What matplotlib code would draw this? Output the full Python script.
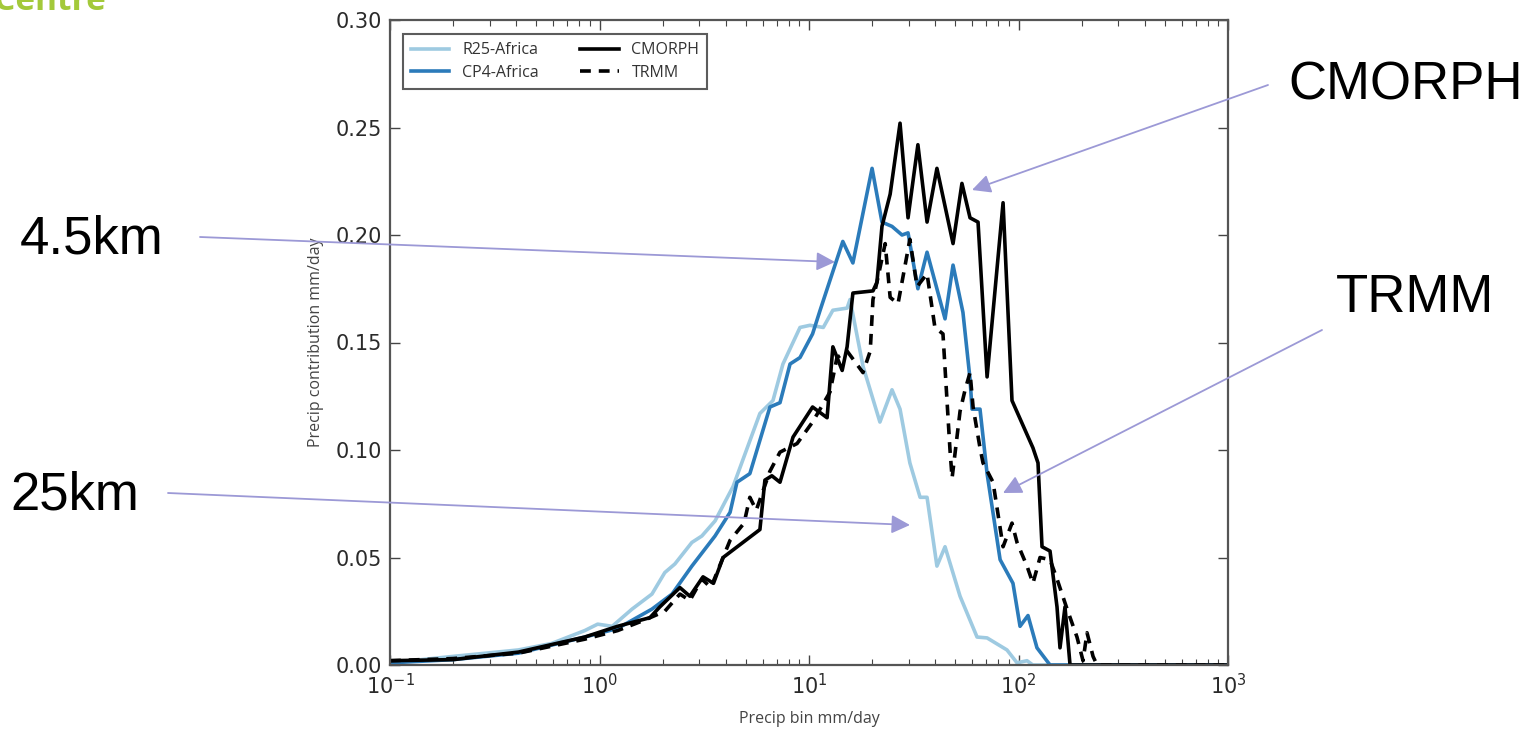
import matplotlib
matplotlib.use("Agg")
import matplotlib.pyplot as plt
from matplotlib.ticker import LogLocator, FixedLocator

# ---------------- data ----------------
r25_x = [0.1, 0.2, 0.41, 0.59, 0.85, 0.98, 1.15, 1.43, 1.78, 2.05, 2.29, 2.76, 3.08, 3.56,
         4.34, 5.83, 6.73, 7.51, 9.06, 10.1, 11.7, 13.0, 15.2, 15.7, 18.1, 21.8, 24.9, 27.2,
         30.3, 33.9, 36.6, 40.8, 44.6, 52.6, 63.4, 70.8, 88.1, 98.4, 109.8, 117.0, 300.0, 1000.0]
r25_y = [0.001, 0.004, 0.007, 0.010, 0.016, 0.019, 0.018, 0.026, 0.033, 0.043, 0.047, 0.057, 0.060, 0.067,
         0.083, 0.117, 0.123, 0.140, 0.157, 0.158, 0.157, 0.165, 0.166, 0.170, 0.139, 0.113, 0.128, 0.119,
         0.094, 0.078, 0.078, 0.046, 0.055, 0.032, 0.013, 0.0126, 0.007, 0.001, 0.002, 0.0, 0.0, 0.0]

cp4_x = [0.1, 0.2, 0.41, 0.85, 1.22, 1.78, 2.22, 2.76, 3.56, 4.20, 4.53, 5.22, 6.51, 7.27, 8.12,
         9.06, 10.4, 11.3, 12.6, 14.5, 16.2, 20.0, 22.3, 24.9, 27.8, 29.7, 33.1, 36.6, 44.6, 48.7,
         54.3, 58.7, 60.0, 65.5, 70.8, 81.7, 94.1, 101.7, 111.0, 122.5, 141.4, 300.0, 1000.0]
cp4_y = [0.001, 0.0025, 0.0055, 0.013, 0.017, 0.026, 0.033, 0.046, 0.060, 0.071, 0.085, 0.089, 0.120, 0.122, 0.140,
         0.143, 0.154, 0.165, 0.179, 0.197, 0.187, 0.231, 0.206, 0.204, 0.200, 0.201, 0.175, 0.192, 0.161, 0.186,
         0.164, 0.133, 0.119, 0.119, 0.089, 0.049, 0.038, 0.018, 0.023, 0.008, 0.0, 0.0, 0.0]

cmorph_x = [0.1, 0.2, 0.41, 0.85, 1.22, 1.74, 1.94, 2.42, 2.70, 3.12, 3.50, 3.89, 5.83, 6.16, 6.65,
            7.27, 8.39, 10.4, 12.2, 13.0, 14.4, 15.2, 16.2, 20.2, 21.1, 22.3, 24.4, 27.2, 29.7, 33.1,
            36.6, 40.8, 48.7, 53.7, 58.7, 64.1, 70.8, 84.4, 93.1, 117.2, 123.9, 129.5, 141.4, 152.7,
            157.8, 166.7, 176.2, 300.0, 1000.0]
cmorph_y = [0.002, 0.0025, 0.006, 0.013, 0.018, 0.022, 0.027, 0.036, 0.032, 0.041, 0.038, 0.050, 0.063, 0.086, 0.088,
            0.085, 0.106, 0.120, 0.115, 0.148, 0.137, 0.148, 0.173, 0.174, 0.178, 0.204, 0.219, 0.252, 0.208, 0.242,
            0.206, 0.231, 0.196, 0.224, 0.208, 0.206, 0.134, 0.215, 0.123, 0.101, 0.094, 0.055, 0.053, 0.027,
            0.008, 0.027, 0.0, 0.0, 0.0]

trmm_x = [0.1, 0.2, 0.41, 0.85, 1.22, 1.65, 2.05, 2.42, 2.70, 3.08, 3.40, 4.20, 4.90, 5.22, 5.60,
          6.50, 7.27, 8.77, 10.4, 12.6, 13.6, 15.2, 18.1, 19.6, 20.2, 21.1, 23.1, 24.4, 26.6, 29.4,
          30.3, 32.8, 36.6, 39.9, 43.6, 47.1, 48.2, 52.6, 55.6, 58.7, 60.7, 65.5, 67.7, 75.6, 84.4,
          93.1, 98.4, 109.8, 117.2, 126.7, 141.4, 152.7, 170.6, 190.2, 203.2, 212.4, 226.9, 237.1,
          400.0, 1000.0]
trmm_y = [0.002, 0.003, 0.0055, 0.012, 0.016, 0.021, 0.025, 0.033, 0.030, 0.040, 0.036, 0.058, 0.066, 0.078, 0.072,
          0.090, 0.099, 0.103, 0.113, 0.127, 0.143, 0.146, 0.136, 0.146, 0.170, 0.178, 0.196, 0.171, 0.168, 0.191,
          0.198, 0.176, 0.182, 0.157, 0.154, 0.100, 0.087, 0.118, 0.128, 0.136, 0.120, 0.101, 0.094, 0.085, 0.055,
          0.066, 0.057, 0.046, 0.038, 0.050, 0.049, 0.040, 0.026, 0.013, 0.002, 0.015, 0.004, 0.0,
          0.0, 0.0]

series_labels = ["R25-Africa", "CP4-Africa", "CMORPH", "TRMM"]
y_ticks = [0.00, 0.05, 0.10, 0.15, 0.20, 0.25, 0.30]

# ---------------- figure ----------------
W, H = 1537, 735
fig = plt.figure(figsize=(W / 100, H / 100), dpi=100)
ax = fig.add_axes([390 / W, 70 / H, 838 / W, 645 / H])

l1, = ax.plot(r25_x, r25_y, color="#9ecae1", lw=2.6, label=series_labels[0])
l2, = ax.plot(cp4_x, cp4_y, color="#2b7bba", lw=2.6, label=series_labels[1])
l3, = ax.plot(cmorph_x, cmorph_y, color="black", lw=2.6, label=series_labels[2])
l4, = ax.plot(trmm_x, trmm_y, color="black", lw=2.6, ls=(0, (3, 2.2)), label=series_labels[3])

ax.set_xscale("log")
ax.set_xlim(0.1, 1000)
ax.set_ylim(0, 0.30)
ax.yaxis.set_major_locator(FixedLocator(y_ticks))
ax.set_yticklabels([f"{v:.2f}" for v in y_ticks])
ax.xaxis.set_major_locator(LogLocator(base=10, numticks=10))
ax.xaxis.set_minor_locator(LogLocator(base=10, subs=range(2, 10), numticks=20))

ax.tick_params(which="both", direction="in", top=True, right=True, colors="#444444",
               labelcolor="#2a2a2a")
ax.tick_params(which="major", length=7, width=1.0, labelsize=15, pad=6)
ax.tick_params(which="minor", length=4, width=0.8)
for s in ax.spines.values():
    s.set_color("#555555")
    s.set_linewidth(1.6)

ax.set_xlabel("Precip bin mm/day", fontsize=11.5, color="#444444", family="Open Sans", labelpad=9)
ax.set_ylabel("Precip contribution mm/day", fontsize=11.5, color="#444444", family="Open Sans", labelpad=8)

leg = ax.legend(handles=[l1, l2, l3, l4], ncol=2, loc="upper left",
                frameon=True, fancybox=False, handlelength=2.4, columnspacing=2.6,
                borderpad=0.5, labelspacing=0.4, bbox_to_anchor=(0.006, 0.99),
                prop={"family": "Open Sans", "size": 11.5})
leg.get_frame().set_edgecolor("#333333")
leg.get_frame().set_linewidth(1.5)
for t in leg.get_texts():
    t.set_color("#333333")

# ---------------- annotations ----------------
def fp(px, py):
    return (px / W, 1 - py / H)

acol = "#9c99d6"
ann_font = dict(fontsize=38, family="Liberation Sans", color="black", va="center", ha="left")
fig.text(*fp(1288, 85), "CMORPH", **ann_font)
fig.text(*fp(20, 240), "4.5km", **ann_font)
fig.text(*fp(1336, 298), "TRMM", **ann_font)
fig.text(*fp(10, 495), "25km", **ann_font)

arrows = [((1268, 85), (972, 190)),
          ((200, 237), (835, 262)),
          ((1322, 330), (1003, 493)),
          ((168, 493), (910, 525))]
for start, end in arrows:
    ax.annotate("", xy=fp(*end), xycoords="figure fraction",
                xytext=fp(*start), textcoords="figure fraction",
                arrowprops=dict(arrowstyle="-|>", color=acol, lw=1.3, mutation_scale=28,
                                shrinkA=0, shrinkB=0),
                annotation_clip=False)

# partially visible logo text at the top-left (cut by the top edge, as in the reference)
fig.text(-0.004, 1 - 2 / H, "Centre", fontsize=24, family="Open Sans", fontweight="bold",
         color="#a3c93a", ha="left", va="center")

fig.savefig("out.png", dpi=100)
